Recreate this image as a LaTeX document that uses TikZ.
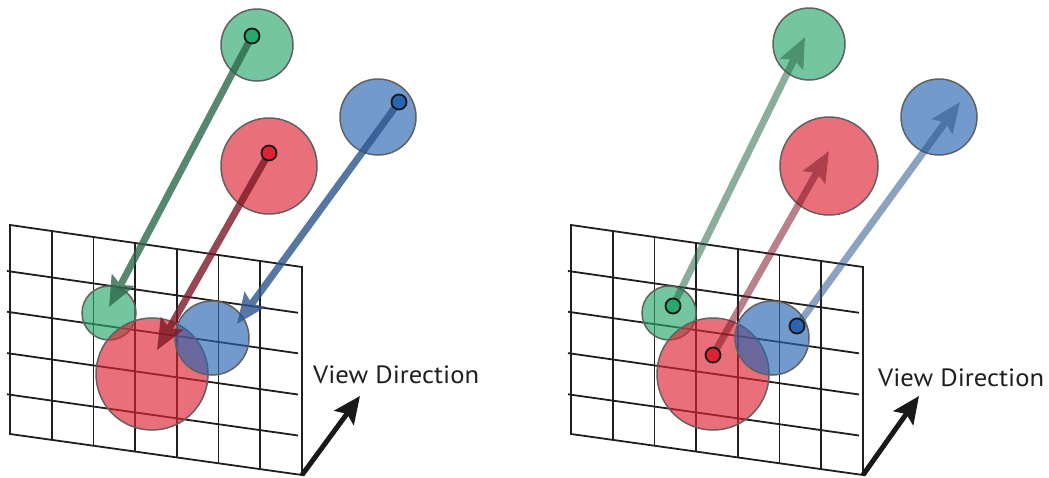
\documentclass[tikz,border=0pt]{standalone}
\usepackage{fontspec}
\setmainfont{PT Sans}
\newfontfamily\viewfont[FakeStretch=1.065]{PT Sans}
\usetikzlibrary{arrows.meta,calc}
\definecolor{cg}{RGB}{40,168,109}
\definecolor{cr}{RGB}{221,35,51}
\definecolor{cb}{RGB}{40,100,178}
\definecolor{ag}{RGB}{45,105,75}
\definecolor{ar}{RGB}{125,25,40}
\definecolor{ab}{RGB}{45,85,140}
\begin{document}
\begin{tikzpicture}[x=1pt,y=-1pt,
  gridline/.style={line width=1.8pt, black!88},
  blob/.style={circle, inner sep=0pt, draw=black!62, line width=1.5pt, fill opacity=0.65},
  dotnode/.style={circle, inner sep=0pt, minimum size=15pt, draw=black!90, line width=1.8pt},
  ray/.style={line width=7pt, -{Stealth[length=30pt,width=25pt,inset=5pt]}},
  viewarrow/.style={line width=5pt, black!90, -{Stealth[length=27pt,width=24pt,inset=5pt]}},
  viewlabel/.style={anchor=base west, inner sep=0pt, font=\viewfont\fontsize{25}{30}\selectfont, text=black!88}]
\useasboundingbox (0,0) rectangle (1049,477);
% ---------- grids ----------
\foreach \p/\dx in {L/0,R/561}{
  \begin{scope}[shift={(\dx,0)}]
    \coordinate (tl\p) at (10,225);
    \coordinate (tr\p) at (302,267);
    \coordinate (bl\p) at (10,434);
    \coordinate (br\p) at (302,475);
    \draw[gridline] (tl\p) -- (tr\p) -- (br\p) -- (bl\p) -- cycle;
    \foreach \t in {1,...,6}{
      \draw[gridline] ($(tl\p)!\t/7!(tr\p)$) -- ($(bl\p)!\t/7!(br\p)$);
    }
    \foreach \f in {0.22,0.415,0.613,0.81}{
      \draw[gridline] ($(tl\p)!\f!(bl\p)+(-3,0)$) -- ($(tr\p)!\f!(br\p)+(-4,0)$);
    }
  \end{scope}
}
% ---------- left panel ----------
\node[blob, fill=cg, minimum size=72pt] (gtopL) at (257,45) {};
\node[blob, fill=cr, minimum size=96pt] (rtopL) at (269,166) {};
\node[blob, fill=cb, minimum size=76pt] (btopL) at (378,117) {};
\node[blob, fill=cg, minimum size=54pt] (gbotL) at (109,313) {};
\node[blob, fill=cr, minimum size=112pt] (rbotL) at (152,374) {};
\node[blob, fill=cb, minimum size=74pt] (bbotL) at (212,338) {};
\coordinate (gsL) at (252,36);
\coordinate (rsL) at (269,153);
\coordinate (bsL) at (399,102);
\coordinate (gtL) at (109,307);
\coordinate (rtL) at (157,350);
\coordinate (btL) at (237,324);
\begin{scope}[transparency group, opacity=0.8]\draw[ray, ag] (gsL) -- (gtL);\end{scope}
\begin{scope}[transparency group, opacity=0.8]\draw[ray, ar] (rsL) -- (rtL);\end{scope}
\begin{scope}[transparency group, opacity=0.8]\draw[ray, ab] (bsL) -- (btL);\end{scope}
\node[dotnode, fill=cg] (gdL) at (gsL) {};
\node[dotnode, fill=cr] (rdL) at (rsL) {};
\node[dotnode, fill=cb] (bdL) at (bsL) {};
\coordinate (vtL) at (360,396);
\draw[viewarrow] (brL) -- (vtL);
\node[viewlabel] (vlL) at (313,383) {View Direction};
% ---------- right panel ----------
\node[blob, fill=cg, minimum size=72pt] (gtopR) at (809,44) {};
\node[blob, fill=cr, minimum size=98pt] (rtopR) at (829,166) {};
\node[blob, fill=cb, minimum size=76pt] (btopR) at (939,117) {};
\node[blob, fill=cg, minimum size=54pt] (gbotR) at (669,313) {};
\node[blob, fill=cr, minimum size=112pt] (rbotR) at (713,374) {};
\node[blob, fill=cb, minimum size=74pt] (bbotR) at (772,338) {};
\coordinate (gsR) at (673,306);
\coordinate (rsR) at (713,355);
\coordinate (bsR) at (797,326);
\coordinate (gtR) at (805,37);
\coordinate (rtR) at (829,151);
\coordinate (btR) at (960,102);
\begin{scope}[transparency group, opacity=0.55]\draw[ray, ag] (gsR) -- (gtR);\end{scope}
\begin{scope}[transparency group, opacity=0.55]\draw[ray, ar] (rsR) -- (rtR);\end{scope}
\begin{scope}[transparency group, opacity=0.55]\draw[ray, ab] (bsR) -- (btR);\end{scope}
\node[dotnode, fill=cg] (gdR) at (gsR) {};
\node[dotnode, fill=cr] (rdR) at (rsR) {};
\node[dotnode, fill=cb] (bdR) at (bsR) {};
\coordinate (vtR) at (919,396);
\draw[viewarrow] (brR) -- (vtR);
\node[viewlabel] (vlR) at (878,386) {View Direction};
\end{tikzpicture}
\end{document}
